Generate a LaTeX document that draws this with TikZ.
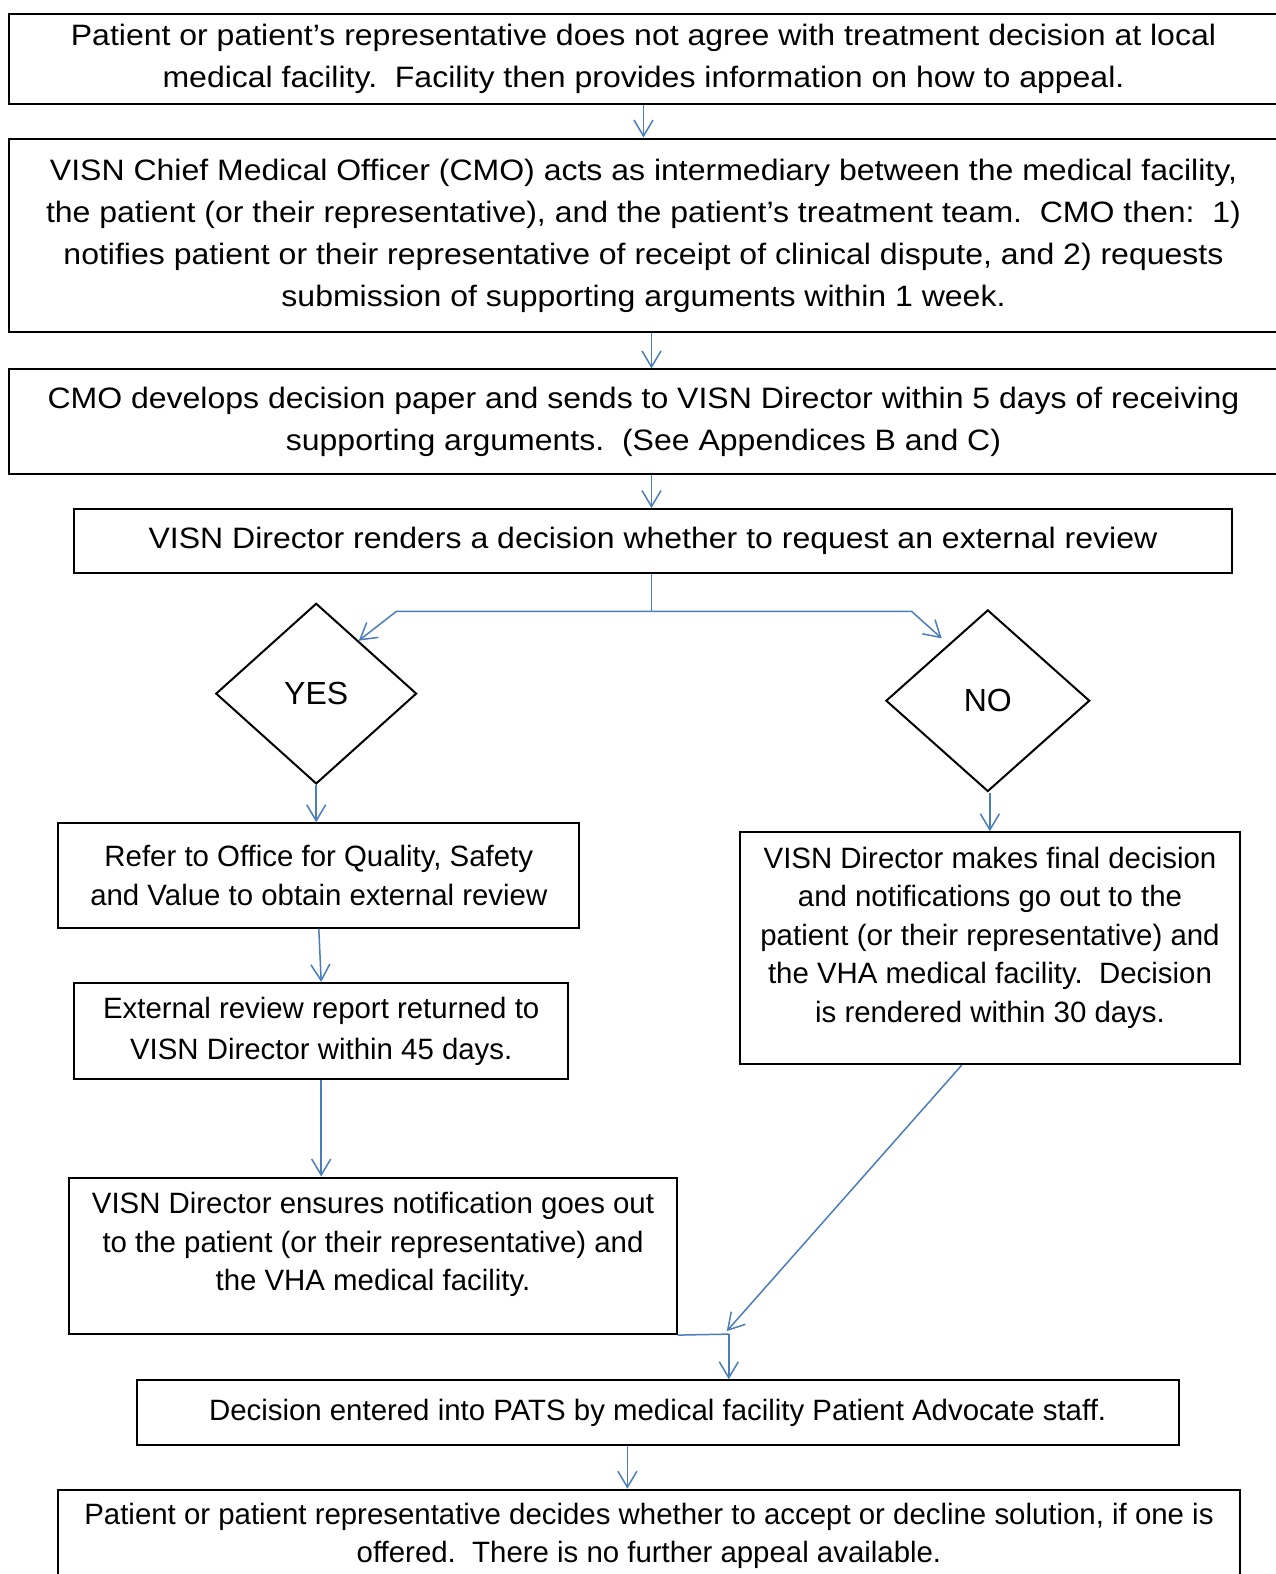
\documentclass[tikz,border=0pt]{standalone}
\usepackage{fontspec}
\setmainfont{Liberation Sans}
\newfontfamily\widefont[FakeStretch=1.085]{Liberation Sans}
\usetikzlibrary{shapes.geometric,arrows.meta,calc}
\definecolor{arrblue}{HTML}{4A7EBB}
\begin{document}
\begin{tikzpicture}[x=1pt,y=-1pt,
  box/.style={draw=black, line width=2pt, rectangle, inner sep=0pt, align=center, font=\widefont\fontsize{29.5}{42}\selectfont},
  lbox/.style={box, font=\fontsize{29.4}{38.5}\selectfont},
  txt/.style={inner sep=0pt, align=center, font=\fontsize{29.4}{38.5}\selectfont},
  dia/.style={draw=black, line width=2pt, diamond, inner sep=0pt, font=\fontsize{32}{36}\selectfont},
  conn/.style={draw=arrblue, line width=1.5pt},
  arr/.style={conn, -{Straight Barb[length=16pt,width=19pt,line width=1.5pt]}}]
\useasboundingbox (0,0) rectangle (1275,1574);
\fill[white] (0,0) rectangle (1275,1574);
% boxes
\node[box, minimum width=1269, minimum height=90.4] (b1) at (643.5,59.2)
  {Patient or patient’s representative does not agree with treatment decision at local\\medical facility.\ \ Facility then provides information on how to appeal.};
\node[box, minimum width=1269, minimum height=193.8] (b2) at (643.5,235.4)
  {VISN Chief Medical Officer (CMO) acts as intermediary between the medical facility,\\the patient (or their representative), and the patient’s treatment team.\ \ CMO then:\ \ 1)\\notifies patient or their representative of receipt of clinical dispute, and 2) requests\\submission of supporting arguments within 1 week.};
\node[box, minimum width=1269, minimum height=104.4] (b3) at (643.5,421.6)
  {CMO develops decision paper and sends to VISN Director within 5 days of receiving\\supporting arguments.\ \ (See Appendices B and C)};
\node[box, minimum width=1157.5, minimum height=64.2] (b4) at (653,541.1)
  {VISN Director renders a decision whether to request an external review};
\node[dia, minimum width=200.8, minimum height=180.6] (yes) at (316.2,693.6) {YES};
\node[dia, minimum width=203.8, minimum height=181.6] (no) at (987.8,700.7) {NO};
\node[lbox, minimum width=521.1, minimum height=104.4] (b5) at (318.8,875.4)
  {Refer to Office for Quality, Safety\\and Value to obtain external review};
\node[lbox, minimum width=499.9, minimum height=231.9] (bno) at (989.9,948.2) {};
\node[txt] (tno) at (990,937.7)
  {VISN Director makes final decision\\and notifications go out to the\\patient (or their representative) and\\the VHA medical facility.\ \ Decision\\is rendered within 30 days.};
\node[lbox, minimum width=493.9, minimum height=96.3, font=\fontsize{29.4}{41}\selectfont] (b6) at (321.2,1031)
  {External review report returned to\\VISN Director within 45 days.};
\node[lbox, minimum width=607.3, minimum height=156.6] (b7) at (373,1255.8) {};
\node[txt] (t7) at (373,1244.7)
  {VISN Director ensures notification goes out\\to the patient (or their representative) and\\the VHA medical facility.};
\node[lbox, minimum width=1042.1, minimum height=64.3] (b8) at (657.6,1412.4)
  {Decision entered into PATS by medical facility Patient Advocate staff.};
\node[lbox, minimum width=1181.6, minimum height=92.3] (b9) at (649,1535.85)
  {Patient or patient representative decides whether to accept or decline solution, if one is\\offered.\ \ There is no further appeal available.};
% coordinates
\coordinate (s) at (651.5,0);
\coordinate (split) at (651.5,611.3);
\coordinate (yl) at (396.5,611.3);
\coordinate (yr) at (911.5,611.3);
\coordinate (notip) at (941.7,638.4);
\coordinate (j) at (728.8,1334.1);
% connectors
\draw[arr] (b1.south) -- (b2.north);
\draw[arr] ([xshift=8]b2.south) -- ([xshift=8]b3.north);
\draw[arr] (b3.south -| s) -- (b4.north -| s);
\draw[conn] (b4.south -| s) -- (split);
\draw[arr] (split) -- (yl) -- ($(yes.north)!0.42!(yes.east)$);
\draw[arr] (split) -- (yr) -- (notip);
\draw[arr] (yes.south) -- (yes.south |- b5.north);
\draw[arr] (bno.north |- no.south) -- (bno.north);
\draw[arr] (b5.south) -- (b6.north);
\draw[arr] (b6.south) -- (b6.south |- b7.north);
\draw[conn] (b7.south east) -- (j);
\draw[arr] (j) -- (j |- b8.north);
\draw[arr] ([xshift=-28.2]bno.south) -- ([shift={(-2,-3)}]j);
\draw[arr] ([xshift=-30.2]b8.south) -- ([xshift=-30.2]b8.south |- b9.north);
\end{tikzpicture}
\end{document}
